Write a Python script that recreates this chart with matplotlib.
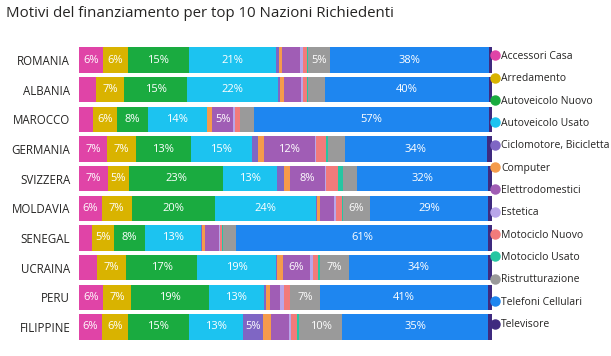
import matplotlib
matplotlib.use("Agg")
import matplotlib.pyplot as plt
from matplotlib.lines import Line2D
import numpy as np

plt.rcParams['font.family'] = ['Open Sans', 'DejaVu Sans']

countries = ["ROMANIA", "ALBANIA", "MAROCCO", "GERMANIA", "SVIZZERA",
             "MOLDAVIA", "SENEGAL", "UCRAINA", "PERU", "FILIPPINE"]
categories = ["Accessori Casa", "Arredamento", "Autoveicolo Nuovo", "Autoveicolo Usato",
              "Ciclomotore, Bicicletta", "Computer", "Elettrodomestici", "Estetica",
              "Motociclo Nuovo", "Motociclo Usato", "Ristrutturazione",
              "Telefoni Cellulari", "Televisore"]
colors = ["#E044A7", "#D9B300", "#1AAB40", "#1CC3F0", "#7F66C4", "#F59B4B",
          "#A05DB5", "#B9A6EA", "#F27B7B", "#26C6A2", "#9A9A9A", "#1E86F0", "#3F2A7F"]

# percentage values per country (rows) and category (columns)
romania   = [6.0, 5.9, 14.8, 21.0, 0.8, 0.8, 4.4, 0.6, 1.0, 0.3, 5.4, 38.3, 0.7]
albania   = [4.3, 6.7, 15.3, 22.0, 0.5, 1.0, 4.0, 0.5, 1.0, 0.3, 4.0, 39.7, 0.7]
marocco   = [3.6, 5.6, 7.6, 14.2, 0.2, 1.2, 5.1, 0.5, 1.0, 0.0, 3.4, 57.0, 0.6]
germania  = [7.0, 6.9, 13.3, 14.8, 1.4, 1.5, 12.3, 0.4, 2.2, 0.5, 4.3, 34.2, 1.2]
svizzera  = [7.1, 5.2, 22.6, 13.2, 1.7, 1.5, 8.3, 0.4, 2.8, 1.2, 3.4, 31.8, 0.8]
moldavia  = [5.6, 7.3, 20.1, 24.4, 0.3, 0.8, 3.4, 0.4, 1.6, 0.2, 6.4, 28.7, 0.8]
senegal   = [3.2, 5.4, 7.6, 13.4, 0.3, 0.8, 3.2, 0.3, 0.6, 0.2, 3.1, 61.1, 0.8]
ucraina   = [4.4, 7.1, 17.3, 19.1, 0.2, 1.5, 6.4, 0.8, 1.2, 0.4, 7.2, 33.6, 0.8]
peru      = [5.9, 6.9, 18.8, 13.3, 0.6, 1.0, 2.4, 1.0, 1.5, 0.0, 7.2, 40.8, 0.8]
filippine = [5.6, 6.3, 14.8, 13.1, 4.8, 2.0, 4.3, 0.5, 1.6, 0.5, 10.4, 35.3, 0.8]

data = np.array([romania, albania, marocco, germania, svizzera,
                 moldavia, senegal, ucraina, peru, filippine])
data = data / data.sum(axis=1, keepdims=True) * 100

fig = plt.figure(figsize=(6.11, 3.56), dpi=100)
fig.patch.set_facecolor("white")
ax = fig.add_axes([0.1285, 0.040, 0.676, 0.833])

y = np.arange(len(countries))
left = np.zeros(len(countries))
for j, cat in enumerate(categories):
    vals = data[:, j]
    ax.barh(y, vals, left=left, height=0.86, color=colors[j], linewidth=0)
    for i, v in enumerate(vals):
        r = int(round(v))
        if r >= 5:
            ax.text(left[i] + v / 2, y[i], f"{r}%", ha="center", va="center",
                    color="white", fontsize=8)
    left += vals

ax.set_xlim(0, 100)
ax.set_ylim(len(countries) - 0.5, -0.5)
ax.set_yticks(y)
ax.set_yticklabels(countries, fontsize=8.3, color="#252423")
ax.tick_params(axis="y", length=0, pad=6)
ax.set_xticks([])
for s in ax.spines.values():
    s.set_visible(False)

fig.text(0.010, 0.962, "Motivi del finanziamento per top 10 Nazioni Richiedenti",
         fontsize=10.8, color="#252423", ha="left", va="center")

handles = [Line2D([0], [0], marker="o", linestyle="", markersize=6.5,
                  markerfacecolor=c, markeredgecolor=c) for c in colors]
leg = fig.legend(handles, categories, loc="upper left",
                 bbox_to_anchor=(0.802, 0.857), frameon=False, fontsize=7.5,
                 handletextpad=0.05, labelspacing=1.09, handlelength=1.0,
                 borderaxespad=0, borderpad=0)
for t in leg.get_texts():
    t.set_color("#252423")

fig.savefig("out.png", dpi=100, facecolor="white")
